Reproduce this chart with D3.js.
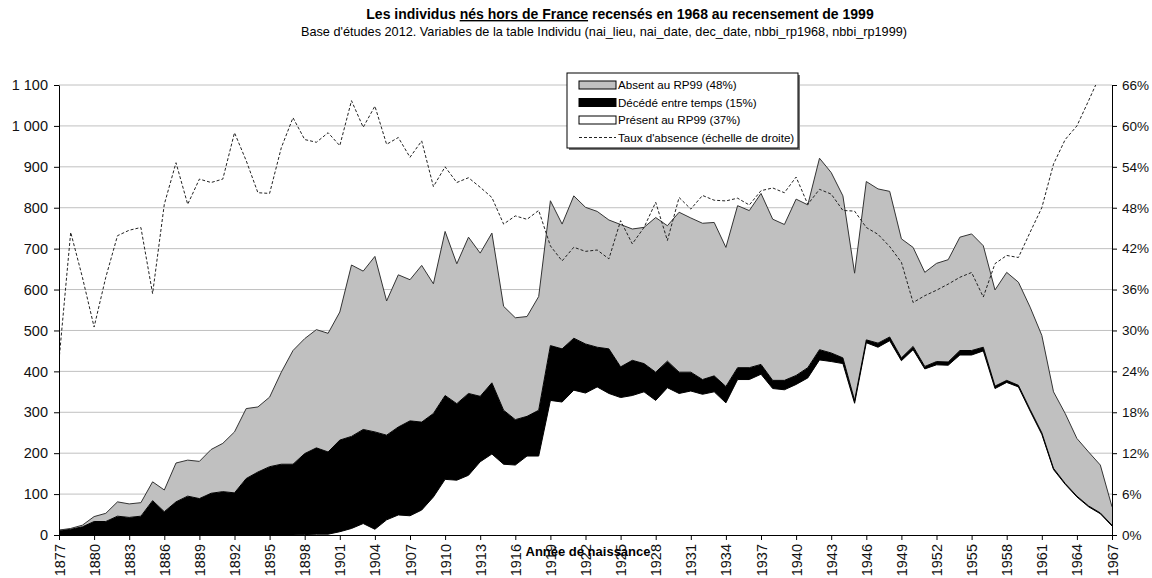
<!DOCTYPE html>
<html>
<head>
<meta charset="utf-8">
<script src="https://cdn.jsdelivr.net/npm/d3@7"></script>
<style>
  body { margin: 0; background: #fff; }
  svg { font-family: "Liberation Sans", Arial, sans-serif; }
</style>
</head>
<body>
<div id="chart"></div>
<script>
const W = 1152, H = 578;
const MARGIN = {TOP: 85, BOTTOM: 43, LEFT: 59, RIGHT: 40};

// Années de naissance
const years = d3.range(1877, 1968);
const yearTicks = d3.range(1877, 1968, 3);

// Effectifs par année de naissance
const present = [0,0,0,0,0,0,0,0,0,0, 0,0,0,0,0,0,0,0,0,0, 0,1,2,2,8,16,28,14,37,49,
  47,61,93,136,134,146,179,198,173,171, 193,193,329,325,354,347,362,346,336,341,
  350,329,360,346,352,344,350,323,380,380, 393,358,355,368,384,428,424,419,322,470,
  459,475,426,453,406,416,415,440,440,450, 358,373,362,303,246,160,124,93,69,52, 22];
const decede = [11,14,20,33,33,46,43,46,84,57, 81,95,89,102,106,103,138,154,167,173,
  173,198,211,201,224,225,230,238,207,215, 232,215,204,205,187,200,160,174,132,111,
  97,112,134,130,127,120,97,109,75,86, 69,69,65,52,46,36,39,40,29,29,
  24,20,23,22,25,25,21,14,7,7, 10,9,7,8,6,8,8,11,11,9, 6,5,4,4,4,3,2,2,2,2, 2];
const absent = [1,2,4,12,20,35,33,33,46,53, 95,88,91,107,118,149,171,159,170,225,
  278,281,289,290,313,419,387,429,328,372, 345,383,317,401,342,382,350,366,254,249,
  244,278,354,305,348,334,332,315,348,321, 333,378,331,391,377,382,375,340,396,384,
  418,394,381,431,398,468,441,396,311,387, 377,356,291,242,230,240,250,277,285,248,
  235,264,252,250,238,187,171,141,132,117, 45];
// Taux d'absence en %
const taux = [25.6,44.4,37.8,30.5,37.8,43.9,44.7,45.1,35.4,48.5, 54.6,48.5,52.2,51.7,52.2,59.0,54.9,50.2,50.1,56.8,
  61.2,58.0,57.6,59.0,57.1,63.7,59.8,62.9,57.3,58.3, 55.4,57.8,51.1,54.0,51.7,52.4,51.0,49.5,45.6,46.8,
  46.3,47.6,42.4,40.2,42.2,41.6,41.8,40.5,46.1,42.7, 45.1,48.8,43.2,49.5,47.8,49.8,49.1,49.0,49.4,48.4,
  50.5,50.9,50.2,52.5,48.5,50.7,50.0,47.6,47.5,45.1, 44.1,42.3,40.0,34.1,35.1,35.9,36.8,37.8,38.5,34.9,
  39.8,41.0,40.7,44.4,48.0,54.4,58.0,60.0,63.7,67.5, 68.0];

const leftTicks = d3.range(0, 1101, 100);
const rightTicks = d3.range(0, 67, 6);
const legendItems = [
  {label: "Absent au RP99 (48%)", fill: "#c0c0c0", stroke: "#000"},
  {label: "Décédé entre temps (15%)", fill: "#000", stroke: "#000"},
  {label: "Présent au RP99 (37%)", fill: "#fff", stroke: "#000"},
  {label: "Taux d'absence (échelle de droite)", dash: true}
];

const PLOT_R = 1112, PLOT_B = 535;

const svg = d3.select("#chart").append("svg")
  .attr("width", W).attr("height", H);

const x = d3.scaleLinear().domain([1877, 1967]).range([MARGIN.LEFT, PLOT_R]);
const y = d3.scaleLinear().domain([0, 1100]).range([PLOT_B, MARGIN.TOP]);
const y2 = d3.scaleLinear().domain([0, 66]).range([PLOT_B, MARGIN.TOP]);

// Titles
const title = svg.append("text")
  .attr("x", 620).attr("y", 19)
  .attr("text-anchor", "middle")
  .attr("font-size", 14).attr("font-weight", "bold");
title.append("tspan").text("Les individus ");
title.append("tspan").style("text-decoration", "underline").text("nés hors de France");
title.append("tspan").text(" recensés en 1968 au recensement de 1999");

svg.append("text")
  .attr("x", 604).attr("y", 36)
  .attr("text-anchor", "middle")
  .attr("font-size", 12.7)
  .text("Base d'études 2012. Variables de la table Individu (nai_lieu, nai_date, dec_date, nbbi_rp1968, nbbi_rp1999)");

// Gridlines
svg.append("g")
  .selectAll("line")
  .data(leftTicks.filter(d => d > 0))
  .join("line")
    .attr("x1", MARGIN.LEFT).attr("x2", PLOT_R)
    .attr("y1", d => y(d)).attr("y2", d => y(d))
    .attr("stroke", "#c0c0c0").attr("stroke-width", 1);

// Stacked areas
const table = years.map((yr, i) => ({year: yr, present: present[i], decede: decede[i], absent: absent[i]}));
const stack = d3.stack().keys(["present", "decede", "absent"]);
const series = stack(table);
const fills = {present: "#fff", decede: "#000", absent: "#c0c0c0"};
const strokes = {present: "#000", decede: "#000", absent: "#333"};

const area = d3.area()
  .x(d => x(d.data.year))
  .y0(d => y(d[0]))
  .y1(d => y(d[1]));
const topLine = d3.line()
  .x(d => x(d.data.year))
  .y(d => y(d[1]));

const areas = svg.append("g");
series.forEach(s => {
  areas.append("path")
    .datum(s)
    .attr("d", area)
    .attr("fill", fills[s.key]);
});
series.forEach(s => {
  areas.append("path")
    .datum(s)
    .attr("d", topLine)
    .attr("fill", "none")
    .attr("stroke", strokes[s.key])
    .attr("stroke-width", 1);
});

// Ratio line (right scale), clipped to plot area
svg.append("clipPath").attr("id", "clip")
  .append("rect")
    .attr("x", MARGIN.LEFT).attr("y", MARGIN.TOP)
    .attr("width", PLOT_R - MARGIN.LEFT).attr("height", PLOT_B - MARGIN.TOP);

const rateLine = d3.line()
  .x((d, i) => x(years[i]))
  .y(d => y2(d));
svg.append("path")
  .datum(taux)
  .attr("clip-path", "url(#clip)")
  .attr("d", rateLine)
  .attr("fill", "none")
  .attr("stroke", "#222")
  .attr("stroke-width", 1)
  .attr("stroke-dasharray", "3,2");

// Axes
const fmt = d3.formatLocale({decimal: ",", thousands: " ", grouping: [3], currency: ["", "€"]}).format(",d");

const yAxisCall = d3.axisLeft(y).tickValues(leftTicks).tickFormat(fmt).tickSize(5).tickSizeOuter(0).tickPadding(6);
const yAxisGroup = svg.append("g")
  .attr("transform", `translate(${MARGIN.LEFT},0)`)
  .call(yAxisCall);
yAxisGroup.selectAll("text").attr("font-size", 14.5);

const y2AxisCall = d3.axisRight(y2).tickValues(rightTicks).tickFormat(d => d + "%").tickSize(5).tickSizeOuter(0).tickPadding(5);
const y2AxisGroup = svg.append("g")
  .attr("transform", `translate(${PLOT_R},0)`)
  .call(y2AxisCall);
y2AxisGroup.selectAll("text").attr("font-size", 13.5);

const xAxisCall = d3.axisBottom(x).tickValues(yearTicks).tickFormat(d3.format("d")).tickSize(5).tickSizeOuter(0);
const xAxisGroup = svg.append("g")
  .attr("transform", `translate(0,${PLOT_B})`)
  .call(xAxisCall);
xAxisGroup.selectAll("text")
  .attr("transform", "rotate(-90)")
  .attr("text-anchor", "end")
  .attr("x", -9).attr("y", 0)
  .attr("dy", "0.35em")
  .attr("font-size", 14.5);

[yAxisGroup, y2AxisGroup, xAxisGroup].forEach(g => {
  g.selectAll("text").attr("fill", "#111")
    .attr("font-family", "'Liberation Sans', Arial, sans-serif");
  g.selectAll("line").attr("stroke", "#000");
  g.select(".domain").attr("stroke", "#000");
});

// X axis title
svg.append("text")
  .attr("x", 588).attr("y", 556)
  .attr("text-anchor", "middle")
  .attr("font-size", 13).attr("font-weight", "bold")
  .text("Année de naissance");

// Legend
const LG = {x: 567, y: 73, w: 231, h: 75};
svg.append("rect")
  .attr("x", LG.x + 2).attr("y", LG.y + 2)
  .attr("width", LG.w).attr("height", LG.h)
  .attr("fill", "#777");
svg.append("rect")
  .attr("x", LG.x).attr("y", LG.y)
  .attr("width", LG.w).attr("height", LG.h)
  .attr("fill", "#fff").attr("stroke", "#000");

const legend = svg.append("g")
  .selectAll("g")
  .data(legendItems)
  .join("g")
    .attr("transform", (d, i) => `translate(${LG.x + 12},${LG.y + 12 + i * 17.5})`);
legend.filter(d => !d.dash).append("rect")
  .attr("x", 0).attr("y", -4)
  .attr("width", 37).attr("height", 8)
  .attr("fill", d => d.fill).attr("stroke", d => d.stroke);
legend.filter(d => d.dash).append("line")
  .attr("x1", 0).attr("x2", 37)
  .attr("stroke", "#222").attr("stroke-dasharray", "3,2");
legend.append("text")
  .attr("x", 39).attr("dy", "0.35em")
  .attr("font-size", 11.6)
  .text(d => d.label);
</script>
</body>
</html>
